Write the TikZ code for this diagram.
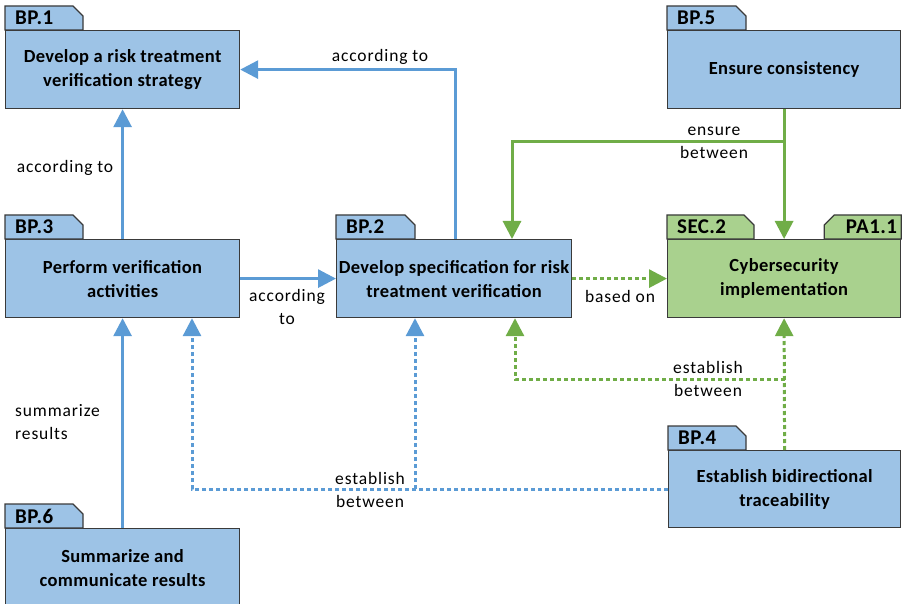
\documentclass[tikz,border=0pt]{standalone}
\usepackage{fontspec}
\setmainfont{Carlito}
\usetikzlibrary{arrows.meta,calc}

\definecolor{boxblue}{HTML}{9DC3E6}
\definecolor{boxgreen}{HTML}{A9D18E}
\definecolor{lineblue}{HTML}{5B9BD5}
\definecolor{linegreen}{HTML}{70AD47}
\definecolor{edge}{HTML}{3A3A3A}

\tikzset{
  pbox/.style={draw=edge, line width=1.2pt, fill=boxblue, minimum width=234pt,
    minimum height=78pt, anchor=north west, align=center, inner sep=0pt,
    font=\fontsize{18.5}{24}\selectfont\bfseries\addfontfeatures{LetterSpace=2}},
  gbox/.style={pbox, fill=boxgreen},
  tabline/.style={draw=edge, line width=1.2pt, line join=miter},
  tabtext/.style={anchor=west, inner sep=0pt,
    font=\fontsize{21}{24}\selectfont\bfseries\addfontfeatures{LetterSpace=2}},
  lbl/.style={align=center, inner sep=0pt,
    font=\fontsize{17.5}{23}\selectfont\addfontfeatures{LetterSpace=5}},
  tip/.style={-{Triangle[length=18pt,width=18pt]}},
  bsolid/.style={draw=lineblue, line width=3pt, tip},
  bdot/.style={draw=lineblue, line width=3pt, dash pattern=on 4pt off 3pt, tip},
  gsolid/.style={draw=linegreen, line width=3pt, tip},
  gdot/.style={draw=linegreen, line width=3pt, dash pattern=on 4pt off 3pt, tip},
}

% tab on the upper left of a box: box name, tab width, label, fill colour
\newcommand\lefttab[4]{%
  \filldraw[tabline, fill=#4] (#1.north west) -- ++(0,-24) -- ++(#2-10,0)
    -- ++(10,10) -- ++(0,14) -- cycle;
  \node[tabtext] (#1tab) at ($(#1.north west)+(10,-12)$) {#3};}
% tab on the upper right of a box
\newcommand\righttab[4]{%
  \filldraw[tabline, fill=#4] (#1.north east) -- ++(0,-24) -- ++(-#2+10,0)
    -- ++(-10,10) -- ++(0,14) -- cycle;
  \node[tabtext, anchor=east] (#1tab) at ($(#1.north east)+(-4,-12)$) {#3};}

\begin{document}
\begin{tikzpicture}[x=1pt, y=-1pt]
\useasboundingbox (0,0) rectangle (902,604);

% boxes
\node[pbox] (bp1) at (5,30) {Develop a risk treatment\\verification strategy};
\node[pbox] (bp3) at (5,239) {Perform verification\\activities};
\node[pbox, minimum width=235pt] (bp2) at (336,239) {Develop specification for risk\\treatment verification};
\node[pbox, minimum width=233pt] (bp5) at (667,30) {Ensure consistency};
\node[gbox, minimum width=233pt] (sec) at (667,239) {Cybersecurity\\implementation};
\node[pbox, minimum width=232pt, minimum height=77pt] (bp4) at (668,450) {Establish bidirectional\\traceability};
\node[pbox] (bp6) at (5,528) {Summarize and\\communicate results};

% tabs
\lefttab{bp1}{78}{BP.1}{boxblue}
\lefttab{bp3}{78}{BP.3}{boxblue}
\lefttab{bp2}{79}{BP.2}{boxblue}
\lefttab{bp5}{79}{BP.5}{boxblue}
\lefttab{sec}{87}{SEC.2}{boxgreen}
\righttab{sec}{77}{PA1.1}{boxgreen}
\lefttab{bp4}{78}{BP.4}{boxblue}
\lefttab{bp6}{78}{BP.6}{boxblue}

% junction points
\coordinate (bp2top) at ($(bp2.north west)+(119,0)$);
\coordinate (bp2in) at ($(bp2.north west)+(176,0)$);
\coordinate (bp2lo) at ($(bp2.south west)+(79,0)$);
\coordinate (bp2lo2) at ($(bp2.south west)+(179,0)$);
\coordinate (bp3lo) at ($(bp3.south west)+(187,0)$);
\coordinate (ens) at (bp5.south |- 0,142);
\coordinate (est) at (bp4.north |- 0,379);

% solid connectors
\draw[bsolid] (bp3.north) -- (bp1.south);
\draw[bsolid] (bp2top) |- (bp1.east);
\draw[bsolid] (bp3.east) -- (bp2.west);
\draw[bsolid] (bp6.north) -- (bp3.south);
\draw[gsolid] (bp5.south) -- (sec.north);
\draw[gsolid] (ens) -| (bp2in);

% dotted connectors
\draw[gdot] (bp2.east) -- (sec.west);
\draw[gdot] (bp4.north) -- (sec.south);
\draw[gdot] (est) -| (bp2lo2);
\draw[bdot] (bp4.west) -| (bp3lo);
\draw[bdot] (bp2lo |- bp4.west) -- (bp2lo);

% labels
\node[lbl] (l1) at (65,168) {according to};
\node[lbl] (l2) at (380,57) {according to};
\node[lbl] (l3) at (287,307) {according\\to};
\node[lbl] (l4) at (620,296) {based on};
\node[lbl] (l5) at (714,143) {ensure\\between};
\node[lbl] (l6) at (708,379) {establish\\between};
\node[lbl] (l7) at (370,490) {establish\\between};
\node[lbl, align=left, anchor=west] (l8) at (15,422) {summarize\\results};
\end{tikzpicture}
\end{document}
